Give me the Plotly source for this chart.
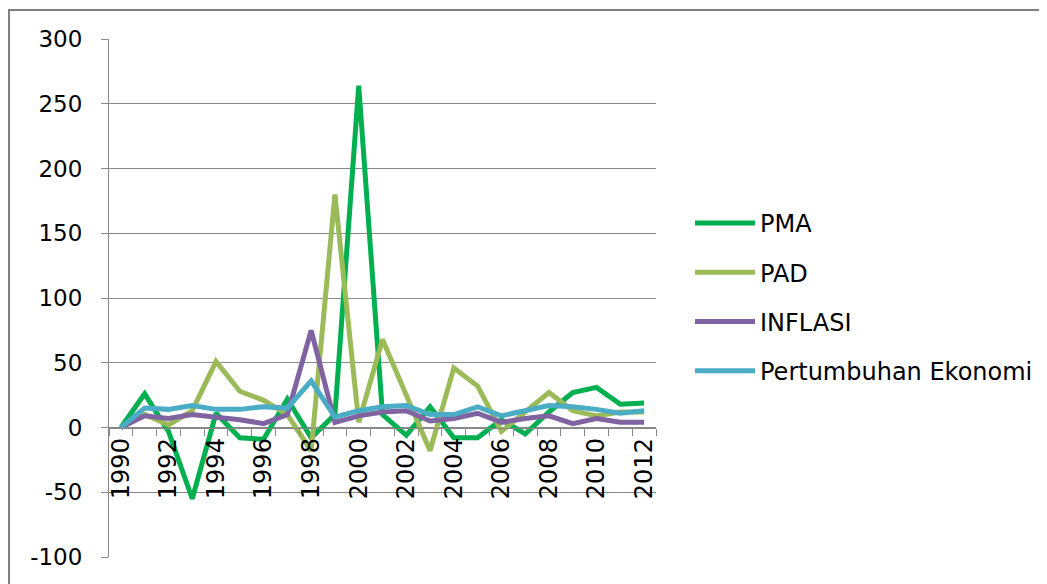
import plotly.graph_objects as go

years = list(range(1990, 2013))
pma = [0, 26, -3, -55, 11, -8, -9, 22, -8, 10, 264, 10, -6, 16, -8, -8, 6, -5, 12, 27, 31, 18, 19]
pad = [0, 10, 2, 13, 51, 28, 21, 10, -18, 180, 4, 68, 25, -18, 46, 32, -3, 12, 27, 13, 9, 12, 12]
inflasi = [0, 9, 7, 10, 8, 6, 3, 10, 75, 4, 9, 12, 13, 5, 7, 11, 4, 7, 9, 3, 7, 4, 4]
pertumbuhan = [0, 15, 14, 17, 14, 14, 16, 15, 36, 8, 13, 16, 17, 10, 10, 16, 9, 13, 17, 16, 14, 11, 13]

series_names = ["PMA", "PAD", "INFLASI", "Pertumbuhan Ekonomi"]
series_vals = [pma, pad, inflasi, pertumbuhan]
colors = ["#00B050", "#9BBB59", "#8064A2", "#4BACC6"]

y_ticks = [-100, -50, 0, 50, 100, 150, 200, 250, 300]
y_ticktext = ["-100", "-50", "0", "50", "100", "150", "200", "250", "300"]
x_label_years = years[::2]

fig = go.Figure()
for name, vals, c in zip(series_names, series_vals, colors):
    fig.add_trace(go.Scatter(x=years, y=vals, mode="lines", name=name, legendgroup=name,
                             line=dict(color=c, width=5)))

grid_c = "#888888"
OFF = 7  # page body margin offset
W, H = 1047, 584
L, R, T, B = 108 - OFF, 655 - OFF, 38 - OFF, 556 - OFF
fig.update_layout(
    width=W, height=H,
    margin=dict(l=L, r=W - R, t=T, b=H - B, autoexpand=False),
    paper_bgcolor="white", plot_bgcolor="white",
    font=dict(family="DejaVu Sans", size=22, color="#000000"),
    showlegend=True,
    legend=dict(x=(689 - OFF - L) / (R - L), y=(B - (200 - OFF)) / (B - T),
                xanchor="left", yanchor="top",
                font=dict(size=24, family="DejaVu Sans"), traceorder="grouped",
                tracegroupgap=15, itemwidth=60, bgcolor="rgba(0,0,0,0)"),
    xaxis=dict(range=[1989.5, 2012.5], anchor="free", position=0.25, automargin=False,
               showgrid=False, zeroline=False, showline=True, linecolor=grid_c, linewidth=1,
               tickmode="array", tickvals=x_label_years, ticktext=[str(v) for v in x_label_years],
               tickangle=-90, ticks="", ticklen=0,
               minor=dict(tickmode="array", tickvals=[y - 0.5 for y in years] + [2012.5],
                          ticks="outside", ticklen=7, tickcolor=grid_c, showgrid=False),
               tickfont=dict(size=24)),
    yaxis=dict(range=[-100, 300], tickmode="array", tickvals=y_ticks, ticktext=y_ticktext,
               automargin=False, ticklabelstandoff=14,
               showgrid=True, gridcolor=grid_c, gridwidth=1, zeroline=False,
               showline=True, linecolor=grid_c, linewidth=1,
               ticks="outside", ticklen=7, tickcolor=grid_c, tickfont=dict(size=23)),
)

# outer chart border
fig.add_shape(type="rect", xref="paper", yref="paper",
              x0=(8 - OFF - L) / (R - L), x1=(1100 - L) / (R - L),
              y0=(B - 700) / (B - T), y1=(B - (9 - OFF)) / (B - T),
              line=dict(color="#7F7F7F", width=2), fillcolor="rgba(0,0,0,0)", layer="below")

fig.write_html("out.html")
